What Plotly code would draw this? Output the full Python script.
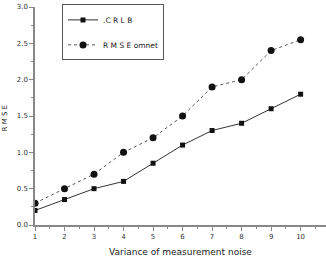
import plotly.graph_objects as go

x_vals = [1, 2, 3, 4, 5, 6, 7, 8, 9, 10]
crlb = [0.2, 0.35, 0.5, 0.6, 0.85, 1.1, 1.3, 1.4, 1.6, 1.8]
rmse_omnet = [0.3, 0.5, 0.7, 1.0, 1.2, 1.5, 1.9, 2.0, 2.4, 2.55]
x_ticks = [1, 2, 3, 4, 5, 6, 7, 8, 9, 10]
y_ticks = [0.0, 0.5, 1.0, 1.5, 2.0, 2.5, 3.0]

fig = go.Figure()
fig.add_trace(go.Scatter(
    x=x_vals, y=crlb, name=".C R L B", mode="lines+markers",
    line=dict(color="#333333", width=1, dash="solid"),
    marker=dict(symbol="square", size=5, color="#111111"),
    legendgroup="a"))
fig.add_trace(go.Scatter(
    x=x_vals, y=rmse_omnet, name="R M S E omnet", mode="lines+markers",
    line=dict(color="#555555", width=1, dash="dot"),
    marker=dict(symbol="circle", size=7, color="#111111"),
    legendgroup="b"))

fig.update_layout(
    width=326, height=258,
    margin=dict(l=35, r=0, t=7, b=33, pad=0),
    paper_bgcolor="white", plot_bgcolor="white",
    font=dict(family="DejaVu Sans", color="#222222"),
    showlegend=True,
    legend=dict(x=(62 - 35) / 291, y=1.012, xanchor="left", yanchor="top",
                xref="paper", yref="paper",
                bordercolor="#555555", borderwidth=1, bgcolor="white",
                font=dict(size=7.5, family="DejaVu Sans", color="#222222"),
                itemwidth=30, tracegroupgap=6, traceorder="grouped"),
)
fig.update_xaxes(
    range=[1, 10.86], tickmode="array", tickvals=x_ticks,
    ticktext=[str(v) for v in x_ticks],
    showgrid=False, zeroline=False, showline=True, linecolor="#888888", linewidth=1.5,
    ticks="outside", ticklen=4, tickcolor="#888888",
    minor=dict(ticks="outside", ticklen=2, dtick=0.5, tickcolor="#888888"),
    tickfont=dict(size=7, color="#333333"),
)
fig.update_yaxes(
    range=[0, 3.0], tickmode="array", tickvals=y_ticks,
    ticktext=["%.1f" % v for v in y_ticks],
    showgrid=False, zeroline=False, showline=True, linecolor="#888888", linewidth=1.5,
    ticks="outside", ticklen=4, tickcolor="#888888",
    minor=dict(ticks="outside", ticklen=2, dtick=0.25, tickcolor="#888888"),
    tickfont=dict(size=7, color="#333333"),
)
fig.add_annotation(text="Variance of measurement noise", xref="paper", yref="paper",
                   x=0.5, y=-0.125, yanchor="middle", showarrow=False,
                   font=dict(size=9, family="DejaVu Sans", color="#222222"))
fig.add_annotation(text="R M S E", xref="paper", yref="paper",
                   x=(5 - 35) / 291, y=0.489, textangle=-90, showarrow=False,
                   xanchor="center", yanchor="middle",
                   font=dict(size=7, family="DejaVu Sans", color="#222222"))

fig.write_html("out.html")
